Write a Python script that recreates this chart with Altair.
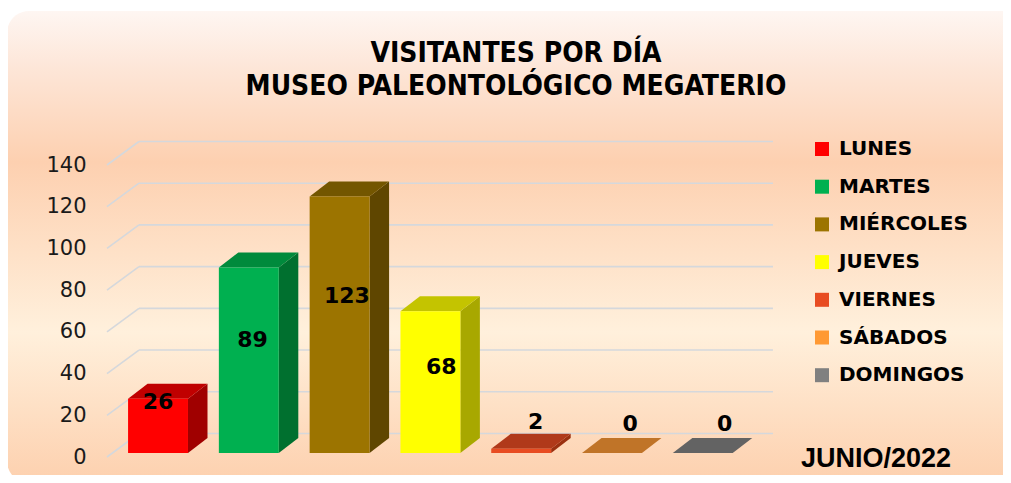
import altair as alt
import pandas as pd

# ---------------- data ----------------
days = ["LUNES", "MARTES", "MIÉRCOLES", "JUEVES", "VIERNES", "SÁBADOS", "DOMINGOS"]
visitors = [26, 89, 123, 68, 2, 0, 0]
front_colors = ["#ff0000", "#00b050", "#9c7400", "#ffff00", "#e84c22", "#ff9933", "#808080"]
top_colors = ["#c00000", "#008a3c", "#735600", "#c4c400", "#b0391a", "#c07428", "#636363"]
side_colors = ["#a00000", "#00702f", "#5f4600", "#a8a800", "#9a3010", "#a8601e", "#555555"]
y_ticks = [0, 20, 40, 60, 80, 100, 120, 140]
title_lines = ["VISITANTES POR DÍA", "MUSEO PALEONTOLÓGICO MEGATERIO"]
period = "JUNIO/2022"

# ---------------- geometry (style) ----------------
HW = 0.33      # half bar width (category units)
BASE = 1.9     # bar front sits slightly behind floor front edge
DDX = 0.215    # bar depth, x
DDY = 7.19     # bar depth, y (value units)
WDX = 0.352    # wall depth, x
WDY = 11.27    # wall depth, y
X0, X1 = -0.562, 6.421

TITLE_FONT = "DejaVu Sans Condensed, Liberation Sans, sans-serif"

xs = alt.Scale(domain=[X0, X1], nice=False, zero=False)
ys = alt.Scale(domain=[0, 140], nice=False, zero=False)
yaxis = alt.Axis(values=y_ticks, domain=False, ticks=False, tickSize=0, grid=False,
                 labelPadding=21, labelFont="DejaVu Sans", labelFontSize=21,
                 labelColor="#1a1a1a", title=None, zindex=1)

bars = pd.DataFrame({
    "day": days, "i": list(range(len(days))), "v": visitors,
    "front": front_colors, "top": top_colors, "side": side_colors,
})
bars["x0"] = bars["i"] - HW
bars["x1"] = bars["i"] + HW
bars["y0"] = BASE
bars["y1"] = BASE + bars["v"]

side_rows, top_rows = [], []
for _, r in bars.iterrows():
    side_rows.append({"day": r.day, "c": r.side, "x": r.x1, "lo": r.y0, "hi": r.y1})
    side_rows.append({"day": r.day, "c": r.side, "x": r.x1 + DDX, "lo": r.y0 + DDY, "hi": r.y1 + DDY})
    top_rows.append({"day": r.day, "c": r.top, "y": r.y1, "l": r.x0, "r": r.x1})
    top_rows.append({"day": r.day, "c": r.top, "y": r.y1 + DDY, "l": r.x0 + DDX, "r": r.x1 + DDX})
side_df = pd.DataFrame(side_rows)
top_df = pd.DataFrame(top_rows)

grid_rows = []
for t in y_ticks:
    grid_rows.append({"x": X0 + WDX, "x2": X1 + WDX, "y": t + WDY, "y2": t + WDY})
    grid_rows.append({"x": X0, "x2": X0 + WDX, "y": t, "y2": t + WDY})
grid_df = pd.DataFrame(grid_rows)

lab = bars.copy()
lab["lx"] = lab["i"] * 1.04
lab["ly"] = [max(0.62 * v + 1, 16 + 0.4 * v) for v in lab["v"]]
lab["txt"] = lab["v"].astype(str)

one = pd.DataFrame({"a": [0]})

# ---------------- layers ----------------
bg = alt.Chart(one).mark_rect(
    cornerRadius=22,
    fill=alt.LinearGradient(
        gradient="linear", x1=0, x2=0, y1=0, y2=1,
        stops=[
            alt.GradientStop(offset=0.0, color="#fef6f2"),
            alt.GradientStop(offset=0.12, color="#fde6d8"),
            alt.GradientStop(offset=0.32, color="#fdd0b0"),
            alt.GradientStop(offset=0.68, color="#fff0dc"),
            alt.GradientStop(offset=1.0, color="#fdd0ae"),
        ],
    ),
).encode(x=alt.value(-100), x2=alt.value(930), y=alt.value(-154), y2=alt.value(318))

grid = alt.Chart(grid_df).mark_rule(color="#d5d8dc", strokeWidth=1.6).encode(
    x=alt.X("x:Q", scale=xs, axis=None), x2="x2:Q",
    y=alt.Y("y:Q", scale=ys, axis=yaxis), y2="y2:Q",
)

side = alt.Chart(side_df).mark_area(orient="vertical", strokeWidth=0).encode(
    x=alt.X("x:Q", scale=xs, axis=None),
    y=alt.Y("lo:Q", scale=ys, axis=yaxis, stack=None), y2="hi:Q",
    fill=alt.Fill("c:N", scale=None),
    detail="day:N",
)

top = alt.Chart(top_df).mark_area(orient="horizontal", strokeWidth=0).encode(
    y=alt.Y("y:Q", scale=ys, axis=yaxis),
    x=alt.X("l:Q", scale=xs, axis=None, stack=None), x2="r:Q",
    fill=alt.Fill("c:N", scale=None),
    detail="day:N",
)

front = alt.Chart(bars).mark_rect(strokeWidth=0).encode(
    x=alt.X("x0:Q", scale=xs, axis=None), x2="x1:Q",
    y=alt.Y("y0:Q", scale=ys, axis=yaxis), y2="y1:Q",
    color=alt.Color(
        "day:N",
        scale=alt.Scale(domain=days, range=front_colors),
        legend=alt.Legend(
            orient="none", legendX=705, legendY=-26, title=None,
            symbolType="square", symbolSize=196, symbolStrokeWidth=0, symbolOpacity=1,
            labelFont="DejaVu Sans", labelFontSize=20, labelFontWeight="bold",
            labelColor="#000000", rowPadding=17.7, labelOffset=7, padding=0,
        ),
    ),
)

labels = alt.Chart(lab).mark_text(
    font="DejaVu Sans", fontSize=22, fontWeight="bold", color="#000000",
    baseline="middle", align="center",
).encode(
    x=alt.X("lx:Q", scale=xs, axis=None),
    y=alt.Y("ly:Q", scale=ys, axis=yaxis),
    text="txt:N",
)

title1 = alt.Chart(pd.DataFrame({"t": [title_lines[0]]})).mark_text(
    font=TITLE_FONT, fontSize=28, fontWeight="bold", color="#000000",
    align="center", baseline="alphabetic",
).encode(x=alt.value(409), y=alt.value(-103), text="t:N")
title2 = alt.Chart(pd.DataFrame({"t": [title_lines[1]]})).mark_text(
    font=TITLE_FONT, fontSize=28, fontWeight="bold", color="#000000",
    align="center", baseline="alphabetic",
).encode(x=alt.value(409), y=alt.value(-70), text="t:N")

per = alt.Chart(pd.DataFrame({"t": [period]})).mark_text(
    font="Liberation Sans", fontSize=27, fontWeight="bold", color="#000000",
    align="left", baseline="alphabetic",
).encode(x=alt.value(694), y=alt.value(302), text="t:N")

chart = alt.layer(bg, grid, side, top, front, labels, title1, title2, per).properties(
    width=634, height=292,
    padding={"left": 99, "top": 157, "right": 262, "bottom": 18},
    autosize=alt.AutoSizeParams(type="none"),
    background="#ffffff",
).configure_view(stroke=None)

chart.save("out.html", embed_options={"renderer": "svg", "actions": False})
